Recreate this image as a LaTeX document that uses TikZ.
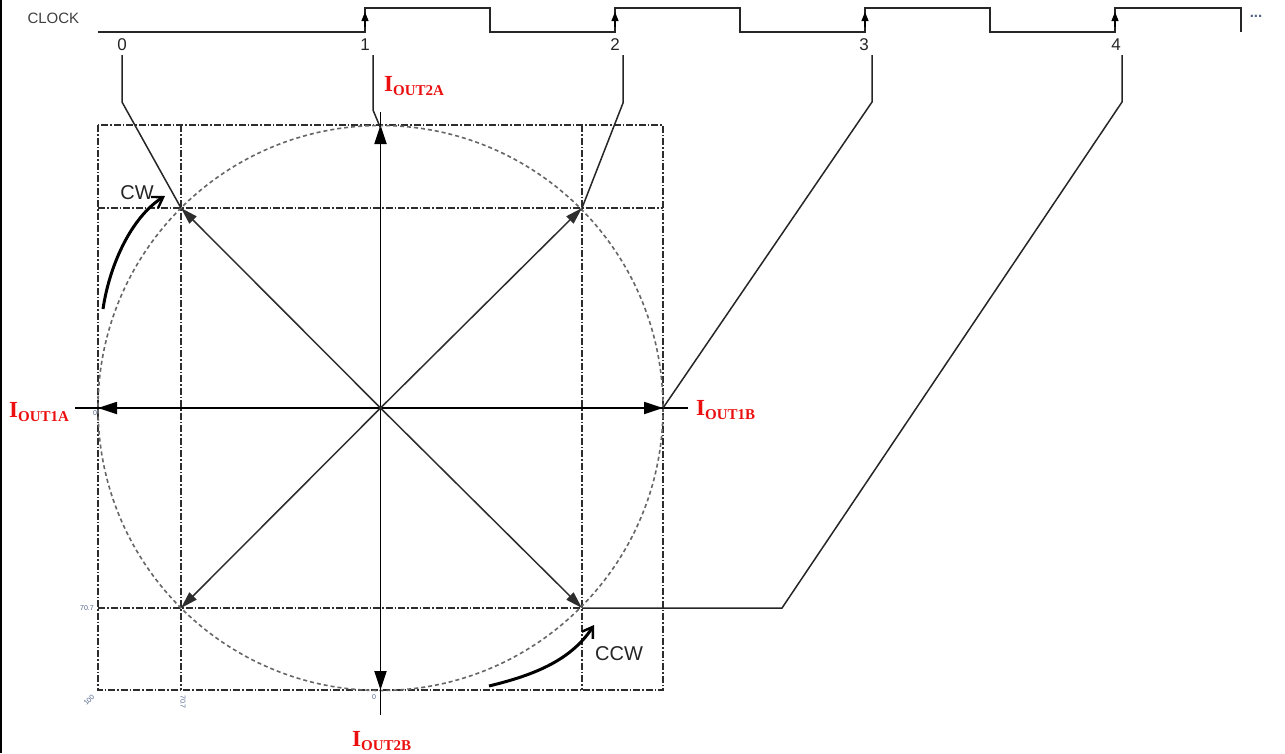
\documentclass[tikz,border=0pt]{standalone}
\usepackage{fontspec}
\setmainfont{Liberation Serif}
\setsansfont{Liberation Sans}
\usetikzlibrary{arrows.meta}
\definecolor{ired}{RGB}{235,15,15}
\definecolor{tinyblue}{RGB}{80,100,140}
\definecolor{dgray}{RGB}{45,45,45}
\tikzset{
  x=1pt, y=-1pt,
  wave/.style={line width=1.8pt, black!85, line join=miter},
  edgearrow/.style={-{Triangle[length=9pt,width=7pt]}, line width=1.2pt},
  leader/.style={line width=1.5pt, black!85},
  axisline/.style={line width=1.8pt, black},
  axarrow/.style={-{Triangle[length=19pt,width=12pt]}, line width=1.8pt, black},
  diagarrow/.style={-{Triangle[length=17pt,width=10pt]}, line width=1.5pt, dgray},
  circ/.style={dash pattern=on 4pt off 3pt, line width=1.6pt, black!60},
  dashdot/.style={dash pattern=on 7pt off 2pt on 1.5pt off 2pt, line width=1.5pt, dgray},
  rotarrow/.style={-{Straight Barb[length=10pt,width=13pt,line width=2.4pt]}, line width=3pt, black},
  clocklbl/.style={font=\sffamily\fontsize{15}{15}\selectfont, text=black!75},
  numlbl/.style={font=\sffamily\fontsize{17}{17}\selectfont, text=black!85},
  ilbl/.style={font=\bfseries\fontsize{23}{23}\selectfont, text=ired, inner sep=0pt},
  dirlbl/.style={font=\sffamily\fontsize{20}{20}\selectfont, text=black!85},
  tiny/.style={font=\sffamily\fontsize{7}{7}\selectfont, text=tinyblue, inner sep=0pt}
}
\newcommand{\Iout}[1]{I\textsubscript{\fontsize{15}{15}\selectfont OUT#1}}
\begin{document}
\begin{tikzpicture}
\useasboundingbox (0,0) rectangle (1285,753);
\fill[white] (0,0) rectangle (1285,753);
\draw[line width=2.2pt] (1,0) -- (1,753);

% clock waveform
\node[clocklbl, anchor=west] (clk) at (24,18) {CLOCK};
\draw[wave] (98,32) -- (365,32) -- (365,8) -- (490,8) -- (490,32) -- (615,32) -- (615,8) -- (740,8) -- (740,32)
  -- (865,32) -- (865,8) -- (990,8) -- (990,32) -- (1115,32) -- (1115,8) -- (1241,8) -- (1241,32);
\foreach \x in {365,615,865,1115} \draw[edgearrow] (\x,27) -- (\x,12);
\node[font=\sffamily\fontsize{15}{15}\selectfont, text=tinyblue] (dots) at (1256,16) {\textbf{...}};

% tick labels
\node[numlbl] (n0) at (122,45) {0};
\node[numlbl] (n1) at (365,45) {1};
\node[numlbl] (n2) at (615,45) {2};
\node[numlbl] (n3) at (864,45) {3};
\node[numlbl] (n4) at (1116,45) {4};

% geometry
\coordinate (c) at (380.5,408);
\coordinate (top) at (380.5,125);
\coordinate (bot) at (380.5,690);
\coordinate (lft) at (98,408);
\coordinate (rgt) at (663,408);
\coordinate (ul) at (181,208);
\coordinate (ur) at (582,208);
\coordinate (ll) at (181,608);
\coordinate (lr) at (582,608);

% dash-dot grid
\draw[dashdot] (98,125) rectangle (663,690);
\draw[dashdot] (181,125) -- (181,690);
\draw[dashdot] (582,125) -- (582,690);
\draw[dashdot] (98,208) -- (663,208);
\draw[dashdot] (98,608) -- (582,608);

% circle
\draw[circ] (c) circle[radius=282.5];

% axes
\draw[axisline] (380.5,112) -- (380.5,715);
\draw[axisline] (75,408) -- (688,408);
\draw[axarrow] (c) -- (top);
\draw[axarrow] (c) -- (bot);
\draw[axarrow] (c) -- (lft);
\draw[axarrow] (c) -- (rgt);
\draw[diagarrow] (c) -- (ul);
\draw[diagarrow] (c) -- (ur);
\draw[diagarrow] (c) -- (ll);
\draw[diagarrow] (c) -- (lr);

% leader lines
\coordinate (a0) at (122,55); \coordinate (b0) at (122,102);
\coordinate (a1) at (373,55); \coordinate (b1) at (373,110);
\coordinate (a2) at (623,55); \coordinate (b2) at (623,103);
\coordinate (a3) at (872,55); \coordinate (b3) at (872,102);
\coordinate (a4) at (1122,55); \coordinate (b4) at (1122,102);
\coordinate (k4) at (782,608);
\draw[leader] (a0) -- (b0) -- (ul);
\draw[leader] (a1) -- (b1) -- (380.5,128);
\draw[leader] (a2) -- (b2) -- (ur);
\draw[leader] (a3) -- (b3) -- (rgt);
\draw[leader] (a4) -- (b4) -- (k4) -- (lr);

% rotation arrows
\coordinate (cws) at (103,309);
\coordinate (cwe) at (165,196);
\draw[rotarrow] (cws) .. controls (110,262) and (133,216) .. (cwe);
\node[dirlbl] (cw) at (137,193) {CW};
\coordinate (ccws) at (489,686);
\coordinate (ccwe) at (594,625);
\draw[rotarrow] (ccws) .. controls (530,676) and (570,662) .. (ccwe);
\node[dirlbl] (ccw) at (619,654) {CCW};

% current labels
\node[ilbl, anchor=west] (i2a) at (384,86) {\Iout{2A}};
\node[ilbl, anchor=west] (i1b) at (696,410) {\Iout{1B}};
\node[ilbl, anchor=west] (i1a) at (9,412) {\Iout{1A}};
\node[ilbl, anchor=west] (i2b) at (352,741) {\Iout{2B}};

% tiny scale labels
\node[tiny] (t0l) at (95,413) {0};
\node[tiny] (t707l) at (87,608) {70.7};
\node[tiny, rotate=45] (t100) at (89,700) {100};
\node[tiny, rotate=-90] (t707b) at (183,702) {70.7};
\node[tiny] (t0b) at (374,697) {0};
\end{tikzpicture}
\end{document}
